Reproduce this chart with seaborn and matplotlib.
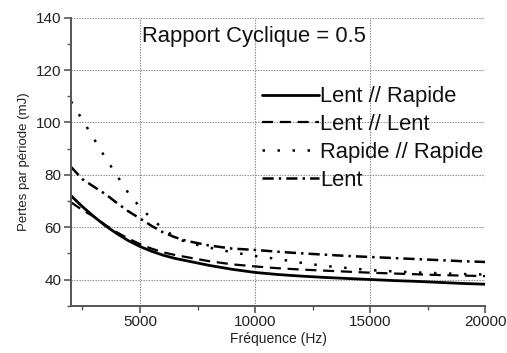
import numpy as np
import pandas as pd
import matplotlib
matplotlib.use("Agg")
import matplotlib.pyplot as plt
import seaborn as sns
from matplotlib.ticker import MultipleLocator

sns.set_style("white")
plt.rcParams["font.family"] = ["Liberation Sans", "DejaVu Sans"]

# Frequency (Hz) and energy loss per period (mJ) for each switch combination
freq = [2000, 2500, 3000, 3500, 4000, 4500, 5000, 5500, 6000, 6500, 7000,
        8000, 9000, 10000, 11000, 12000, 13000, 14000, 15000, 16000, 17000,
        18000, 19000, 20000]
lent_rapide = [72.0, 67.8, 64.0, 60.5, 57.5, 54.8, 52.6, 50.8, 49.3, 48.1, 47.2,
               45.4, 43.9, 42.7, 41.9, 41.3, 40.8, 40.4, 40.0, 39.6, 39.3,
               38.9, 38.5, 38.2]
lent_lent = [69.5, 66.5, 64.0, 60.8, 58.0, 55.6, 53.5, 51.8, 50.4, 49.4, 48.6,
             47.0, 45.8, 45.0, 44.3, 43.8, 43.4, 43.0, 42.6, 42.3, 42.0,
             41.7, 41.5, 41.3]
rapide_rapide = [108.0, 100.9, 93.7, 86.4, 79.7, 72.9, 67.6, 63.3, 59.4, 56.4, 54.2,
                 52.2, 50.4, 49.0, 47.8, 46.4, 45.2, 44.4, 43.6, 43.1, 42.7,
                 42.4, 42.1, 41.9]
lent = [83.0, 78.3, 75.4, 72.6, 69.2, 66.0, 63.3, 60.5, 58.0, 56.2, 54.8,
        53.0, 51.8, 51.3, 50.6, 50.0, 49.5, 49.0, 48.6, 48.2, 47.8,
        47.4, 47.0, 46.7]

series = [
    ("Lent // Rapide", lent_rapide, "-", 2.0),
    ("Lent // Lent", lent_lent, (0, (5, 3)), 1.6),
    ("Rapide // Rapide", rapide_rapide, (0, (1, 5)), 1.8),
    ("Lent", lent, (0, (4.5, 2, 1, 2)), 1.8),
]

fig = plt.figure(figsize=(5.07, 3.53), dpi=100)
ax = fig.add_axes([0.140, 0.134, 0.817, 0.816])

for label, values, ls, lw in series:
    df = pd.DataFrame({"f": freq, "p": values})
    sns.lineplot(data=df, x="f", y="p", ax=ax, color="black", linestyle=ls,
                 linewidth=lw, label=label)

ax.set_xlim(2000, 20000)
ax.set_ylim(30, 140)
ax.xaxis.set_major_locator(MultipleLocator(5000))
ax.xaxis.set_minor_locator(MultipleLocator(2500))
ax.yaxis.set_major_locator(MultipleLocator(20))
ax.yaxis.set_minor_locator(MultipleLocator(10))

ax.grid(True, which="major", color="#888888", linestyle=(0, (1.2, 1.2)), linewidth=0.8)
for tick in ax.xaxis.get_major_ticks():
    if tick.get_loc() <= 2000 or tick.get_loc() >= 20000:
        tick.gridline.set_visible(False)
for tick in ax.yaxis.get_major_ticks():
    if tick.get_loc() <= 30 or tick.get_loc() >= 140:
        tick.gridline.set_visible(False)

for side in ("top", "right"):
    ax.spines[side].set_visible(False)
for side in ("left", "bottom"):
    ax.spines[side].set_color("#555555")
    ax.spines[side].set_linewidth(1.4)

ax.tick_params(which="major", direction="out", length=5, width=1.2, color="#555555",
               labelsize=11, labelcolor="#222222", pad=2, left=True, bottom=True)
ax.tick_params(which="minor", direction="out", length=3, width=1.0, color="#555555",
               left=True, bottom=True)

ax.set_xlabel("Fréquence (Hz)", fontsize=10, color="#222222", labelpad=2)
ax.set_ylabel("Pertes par période (mJ)", fontsize=9.5, color="#222222", labelpad=4)

ax.text(0.171, 0.935, "Rapport Cyclique = 0.5", transform=ax.transAxes,
        fontsize=15.8, color="#111111", ha="left", va="center")

leg = ax.legend(loc="upper left", bbox_to_anchor=(0.461, 0.762), frameon=False,
                fontsize=15.8, handlelength=2.6, handletextpad=0.05, labelspacing=0.31,
                borderpad=0, borderaxespad=0)
for t in leg.get_texts():
    t.set_color("#111111")

fig.savefig("out.png", dpi=100)
